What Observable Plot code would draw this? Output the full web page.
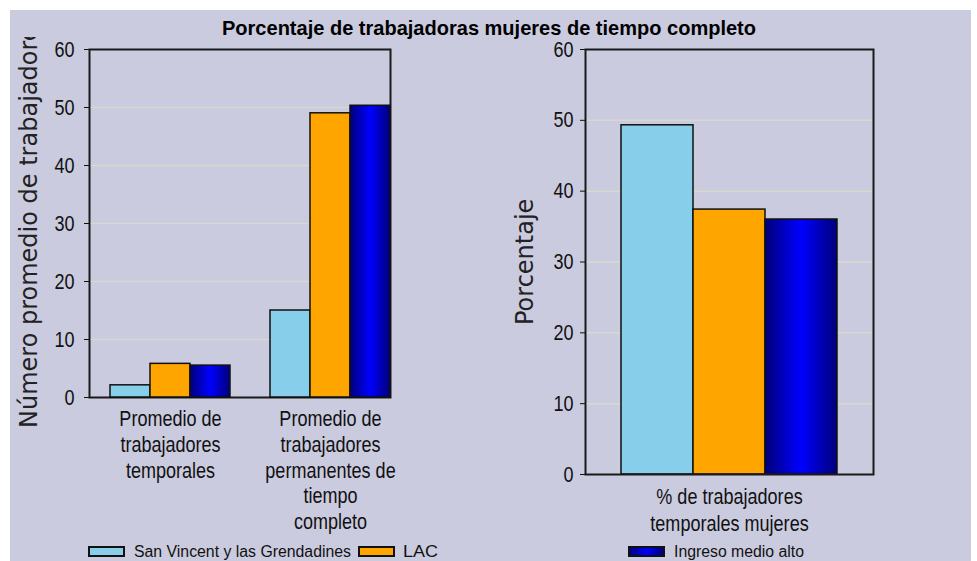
<!DOCTYPE html>
<html><head><meta charset="utf-8">
<script src="https://cdn.jsdelivr.net/npm/d3@7"></script>
<script src="https://cdn.jsdelivr.net/npm/@observablehq/plot@0.6"></script>
<style>
body{margin:0;background:#fff;}
#root{position:relative;width:977px;height:561px;overflow:hidden;font-family:"Liberation Sans",Arial,sans-serif;color:#111;}
#bg{position:absolute;left:10px;top:10px;width:961px;height:551px;background:#cbcbdf;}
.clip{position:absolute;overflow:hidden;}
.ylab{position:absolute;left:0;top:0;white-space:nowrap;font-family:"DejaVu Sans",sans-serif;font-size:24px;line-height:28px;transform-origin:0 0;color:#222;}
</style></head><body>
<div id="root"><div id="bg"></div></div>
<script>
const FONT = '"Liberation Sans", Arial, sans-serif';
const title = "Porcentaje de trabajadoras mujeres de tiempo completo";
const series = ["San Vincent y las Grendadines", "LAC", "Ingreso medio alto"];
const seriesColors = ["#87ceeb", "#ffa500", "url(#navyGrad)"];
const yTicks = [0, 10, 20, 30, 40, 50, 60];

const leftCategories = ["Promedio de trabajadores temporales", "Promedio de trabajadores permanentes de tiempo completo"];
const leftTickLabels = ["Promedio de\ntrabajadores\ntemporales", "Promedio de\ntrabajadores\npermanentes de\ntiempo\ncompleto"];
const leftSanVincent = [2.1, 15.0];
const leftLAC = [5.8, 49.0];
const leftIngreso = [5.5, 50.3];
const leftYLabel = "Número promedio de trabajadores";

const rightCategories = ["% de trabajadores temporales mujeres"];
const rightTickLabels = ["% de trabajadores\ntemporales mujeres"];
const rightSanVincent = [49.3];
const rightLAC = [37.4];
const rightIngreso = [36.0];
const rightYLabel = "Porcentaje";

function table(cats, a, b, c) {
  const vals = [a, b, c];
  return cats.flatMap((cat, i) => series.map((s, j) => ({category: cat, series: s, value: vals[j][i]})));
}
const leftData = table(leftCategories, leftSanVincent, leftLAC, leftIngreso);
const rightData = table(rightCategories, rightSanVincent, rightLAC, rightIngreso);

const root = document.getElementById("root");
const GRAD = '<linearGradient id="navyGrad" x1="0" x2="1" y1="0" y2="0">' +
  '<stop offset="0" stop-color="#00007a"/><stop offset="0.5" stop-color="#0000ff"/><stop offset="1" stop-color="#00007a"/></linearGradient>';
function addDefs(svg) { d3.select(svg).insert("defs", ":first-child").html(GRAD); }
// condense glyphs horizontally (Arial Narrow look) around each text's own anchor
function narrow(svg, k) {
  svg.querySelectorAll("text").forEach(t => {
    const tr = t.getAttribute("transform");
    if (tr) t.setAttribute("transform", tr + ` scale(${k},1)`);
  });
}
function place(el, left, top) {
  el.style.position = "absolute"; el.style.left = left + "px"; el.style.top = top + "px";
  root.appendChild(el);
}

const style = {background: "transparent", fontFamily: FONT, fontSize: "22px", color: "#111", overflow: "visible"};
const gridColor = "#d8d8cf";
const NARROW = 0.82;

// ---- left chart: background layer (grid, frame, y axis) + foreground layer (faceted bars)
const leftDims = {width: 380, height: 500, marginLeft: 49, marginRight: 30, marginTop: 12, marginBottom: 140};
const leftBg = Plot.plot({
  ...leftDims, style,
  y: {domain: [0, 60], axis: null},
  marks: [
    Plot.gridY(yTicks.slice(1, -1), {stroke: gridColor, strokeOpacity: 1, strokeWidth: 1.5}),
    Plot.frame({stroke: "#1a1a1a", strokeWidth: 2}),
    Plot.axisY(yTicks, {tickSize: 5, tickPadding: 10, label: null})
  ]
});
narrow(leftBg, NARROW);
place(leftBg, 40, 37);

const left = Plot.plot({
  ...leftDims, style,
  y: {domain: [0, 60], axis: null},
  color: {domain: series, range: seriesColors},
  fx: {domain: leftCategories, paddingInner: 0.2484, paddingOuter: 0.059, align: 1, axis: null, label: null},
  x: {domain: series, padding: 0, axis: null},
  marks: [
    Plot.barY(leftData, {fx: "category", x: "series", y: "value", fill: "series", stroke: "#111", strokeWidth: 1.5}),
    Plot.axisFx({anchor: "bottom", tickSize: 0, tickPadding: 10, lineHeight: 1.175, label: null,
      tickFormat: d => leftTickLabels[leftCategories.indexOf(d)]})
  ]
});
addDefs(left);
narrow(left, NARROW);
place(left, 40, 37);

// ---- right chart
const right = Plot.plot({
  width: 420, height: 500, marginLeft: 95, marginRight: 37, marginTop: 12, marginBottom: 63, style,
  y: {domain: [0, 60], axis: null},
  color: {domain: series, range: seriesColors},
  fx: {domain: rightCategories, padding: 0, axis: null, label: null},
  x: {domain: series, paddingInner: 0, paddingOuter: 0.5, axis: null},
  marks: [
    Plot.gridY(yTicks.slice(1, -1), {stroke: gridColor, strokeOpacity: 1, strokeWidth: 1.5}),
    Plot.barY(rightData, {fx: "category", x: "series", y: "value", fill: "series", stroke: "#111", strokeWidth: 1.5}),
    Plot.frame({stroke: "#1a1a1a", strokeWidth: 2}),
    Plot.axisY(yTicks, {tickSize: 5, tickPadding: 7, label: null}),
    Plot.axisFx({anchor: "bottom", tickSize: 0, tickPadding: 11, lineHeight: 1.2, label: null,
      tickFormat: d => rightTickLabels[rightCategories.indexOf(d)]})
  ]
});
addDefs(right);
narrow(right, NARROW);
place(right, 490, 37);

// y-axis labels (rotated)
function yLabel(text, clipLeft, cx, bottomY, clipTop, clipBottom) {
  const c = document.createElement("div");
  c.className = "clip";
  c.style.left = clipLeft + "px"; c.style.width = "60px";
  c.style.top = clipTop + "px"; c.style.height = (clipBottom - clipTop) + "px";
  const s = document.createElement("div");
  s.className = "ylab"; s.textContent = text;
  s.style.transform = `translate(${cx - clipLeft - 14}px, ${bottomY - clipTop}px) rotate(-90deg)`;
  c.appendChild(s);
  root.appendChild(c);
}
yLabel(leftYLabel, 10, 29, 428, 37, 450);
yLabel(rightYLabel, 500, 525, 325, 37, 450);

// ---- title and legend (overlay svg)
const ov = d3.create("svg").attr("width", 977).attr("height", 561)
  .style("position", "absolute").style("left", "0px").style("top", "0px")
  .style("font-family", FONT).style("overflow", "hidden");
ov.append("defs").html(GRAD.replace('id="navyGrad"', 'id="navyGradL"'));
ov.append("text").attr("x", 222).attr("y", 35).attr("font-size", 21).attr("font-weight", "bold")
  .attr("fill", "#000").attr("textLength", 534).attr("lengthAdjust", "spacingAndGlyphs").text(title);

const legendItems = [
  {sx: 88, tx: 134, tw: 217},
  {sx: 358, tx: 403, tw: 35},
  {sx: 628, tx: 674, tw: 130}
];
const swatchFill = ["#87ceeb", "#ffa500", "url(#navyGradL)"];
legendItems.forEach((it, i) => {
  ov.append("rect").attr("x", it.sx + 1).attr("y", 547).attr("width", 35).attr("height", 9)
    .attr("fill", swatchFill[i]).attr("stroke", "#111").attr("stroke-width", 2);
  ov.append("text").attr("x", it.tx).attr("y", 557).attr("font-size", 16).attr("fill", "#111")
    .attr("textLength", it.tw).attr("lengthAdjust", "spacingAndGlyphs").text(series[i]);
});
root.appendChild(ov.node());
</script>
</body></html>
